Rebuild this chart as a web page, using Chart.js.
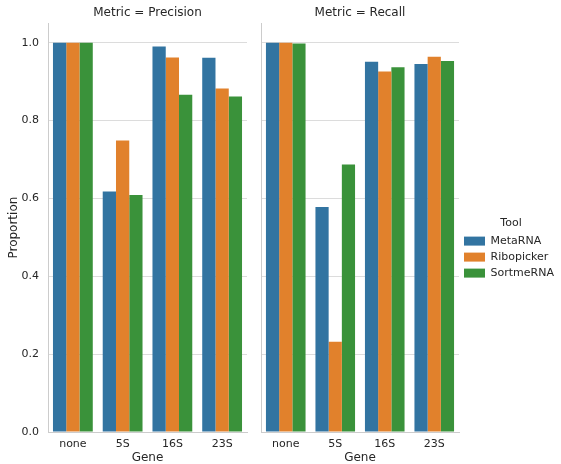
<!DOCTYPE html>
<html>
<head>
<meta charset="utf-8">
<script src="https://cdn.jsdelivr.net/npm/chart.js@4/dist/chart.umd.min.js"></script>
<style>
  html, body { margin: 0; padding: 0; background: #ffffff; overflow: hidden; }
  #wrap { position: relative; width: 561px; height: 464px; }
  .panel { position: absolute; top: 0; height: 464px; }
  #pPrec { left: 0; width: 250px; }
  #pRec { left: 250px; width: 313px; }
</style>
</head>
<body>
<div id="wrap">
  <div class="panel" id="pPrec"><canvas id="cPrec"></canvas></div>
  <div class="panel" id="pRec"><canvas id="cRec"></canvas></div>
</div>
<script>
// Gene categories and tools
const genes = ['none', '5S', '16S', '23S'];
const tools = ['MetaRNA', 'Ribopicker', 'SortmeRNA'];
const toolColors = ['#3274a1', '#e1812c', '#3a923a'];

// Precision per tool, by gene
const precisionMetaRNA = [1.000, 0.618, 0.990, 0.961];
const precisionRibopicker = [1.000, 0.749, 0.962, 0.882];
const precisionSortmeRNA = [1.000, 0.609, 0.866, 0.862];

// Recall per tool, by gene
const recallMetaRNA = [1.000, 0.578, 0.951, 0.945];
const recallRibopicker = [1.000, 0.232, 0.926, 0.964];
const recallSortmeRNA = [0.998, 0.687, 0.937, 0.953];

const yTicks = [0.0, 0.2, 0.4, 0.6, 0.8, 1.0];

const FONT = 'DejaVu Sans';
const TEXT = '#262626';
const GRID = '#dcdcdc';
const SPINE = '#cccccc';

function datasets(series) {
  return series.map((vals, i) => ({
    label: tools[i],
    data: vals,
    backgroundColor: toolColors[i],
    borderWidth: 0,
    categoryPercentage: 0.8,
    barPercentage: 1.0
  }));
}

function panelOptions(title, showYLabels, showLegend, padRight) {
  return {
    responsive: true,
    maintainAspectRatio: false,
    animation: false,
    layout: { padding: { left: 0, right: padRight, top: 0, bottom: 0 } },
    plugins: {
      title: {
        display: true,
        text: title,
        fullSize: false,
        color: TEXT,
        font: { family: FONT, size: 12, weight: 'normal' },
        padding: { top: 6, bottom: 2.8 }
      },
      legend: {
        display: showLegend,
        position: 'right',
        align: 'center',
        maxWidth: 104,
        title: {
          display: true,
          text: 'Tool',
          color: TEXT,
          font: { family: FONT, size: 11, weight: 'normal' },
          padding: { top: 37, bottom: 0 }
        },
        labels: {
          color: TEXT,
          font: { family: FONT, size: 11 },
          boxWidth: 21,
          boxHeight: 9,
          padding: 5
        }
      },
      tooltip: { enabled: false }
    },
    scales: {
      x: {
        type: 'category',
        offset: true,
        grid: { display: false, drawTicks: false },
        border: { display: true, color: SPINE, width: 1 },
        ticks: { color: TEXT, font: { family: FONT, size: 11 }, padding: 6 },
        title: {
          display: true,
          text: 'Gene',
          color: TEXT,
          font: { family: FONT, size: 12 },
          padding: { top: 0, bottom: -1 }
        },
        afterFit: s => { s.height = 32; }
      },
      y: {
        min: 0,
        max: 1.05,
        grid: { color: GRID, lineWidth: 1, drawTicks: false },
        border: { display: true, color: SPINE, width: 1 },
        afterBuildTicks: s => { s.ticks = yTicks.map(v => ({ value: v })); },
        ticks: {
          display: showYLabels,
          color: TEXT,
          font: { family: FONT, size: 11 },
          padding: 9,
          callback: v => v.toFixed(1)
        },
        title: {
          display: showYLabels,
          text: 'Proportion',
          color: TEXT,
          font: { family: FONT, size: 12 },
          padding: { top: 7, bottom: 0 }
        },
        afterFit: s => { s.width = showYLabels ? 48 : 11; }
      }
    }
  };
}

new Chart(document.getElementById('cPrec'), {
  type: 'bar',
  data: {
    labels: genes,
    datasets: datasets([precisionMetaRNA, precisionRibopicker, precisionSortmeRNA])
  },
  options: panelOptions('Metric = Precision', true, false, 3)
});

new Chart(document.getElementById('cRec'), {
  type: 'bar',
  data: {
    labels: genes,
    datasets: datasets([recallMetaRNA, recallRibopicker, recallSortmeRNA])
  },
  options: panelOptions('Metric = Recall', false, true, 0)
});
</script>
</body>
</html>
